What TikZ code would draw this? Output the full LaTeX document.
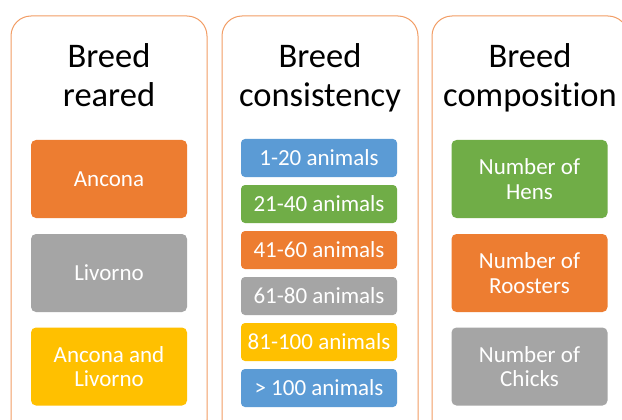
\documentclass[tikz,border=0pt]{standalone}
\usepackage{fontspec}
\setmainfont[Ligatures=NoCommon]{Carlito}
\usetikzlibrary{positioning}
\definecolor{offorange}{HTML}{ED7D31}
\definecolor{offgray}{HTML}{A5A5A5}
\definecolor{offgold}{HTML}{FFC000}
\definecolor{offblue}{HTML}{5B9BD5}
\definecolor{offgreen}{HTML}{70AD47}
\tikzset{
  panel/.style={draw=offorange!75, line width=1pt, fill=white, rounded corners=20pt},
  title/.style={anchor=north, align=center, inner sep=0pt, font=\fontsize{34.5}{39}\selectfont},
  bigbox/.style={fill=#1, rounded corners=5pt, minimum width=156pt, minimum height=78pt,
    text=white, align=center, inner sep=0pt, font=\fontsize{23}{24.5}\selectfont},
  smallbox/.style={fill=#1, rounded corners=4pt, minimum width=156pt, minimum height=38pt,
    text=white, inner sep=0pt, font=\fontsize{23}{24.5}\selectfont}
}
\begin{document}
\begin{tikzpicture}[x=1pt,y=-1pt]
		\useasboundingbox (0,0) rectangle (622,420);
		% the three panels
		\draw[panel] (11,16) rectangle (207,440);
		\draw[panel] (222,16) rectangle (418,440);
		\draw[panel] (432,16) rectangle (628,440);
		% titles
		\node[title] (reared) at (109,43) {Breed\\reared};
		\node[title] (consist) at (320,43) {Breed\\consistency};
		\node[title] (compos) at (530,43) {Breed\\composition};
		% left column
		\node[bigbox=offorange] (ancona) at (109,179) {Ancona};
		\node[bigbox=offgray] (livorno) at (109,273) {Livorno};
		\node[bigbox=offgold] (both) at (109,366.5) {Ancona and\\Livorno};
		% middle column
		\foreach \name/\col/\y/\txt in {a/offblue/158/1-20 animals, b/offgreen/204/21-40 animals,
		  c/offorange/250/41-60 animals, d/offgray/296/61-80 animals,
		  e/offgold/342/81-100 animals, f/offblue/388/> 100 animals}
		\node[smallbox=\col] (num\name) at (319,\y) {\txt};
		% right column
		\node[bigbox=offgreen] (hens) at (529.5,179) {Number of\\Hens};
		\node[bigbox=offorange] (roosters) at (529.5,273) {Number of\\Roosters};
		\node[bigbox=offgray] (chicks) at (529.5,366.5) {Number of\\Chicks};
\end{tikzpicture}
\end{document}
